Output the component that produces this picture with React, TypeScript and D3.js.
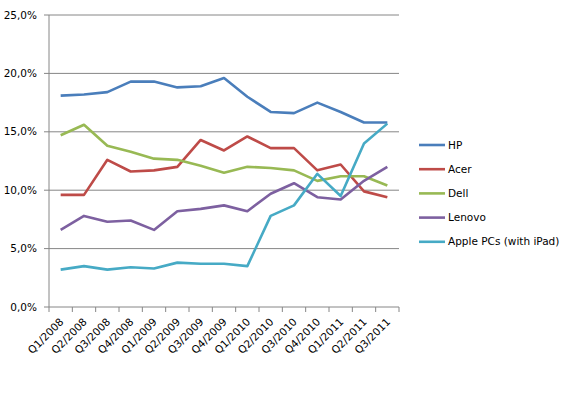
import React from "react";
import * as d3 from "d3";

// quarters on the x axis
const quarters = [
  "Q1/2008", "Q2/2008", "Q3/2008", "Q4/2008",
  "Q1/2009", "Q2/2009", "Q3/2009", "Q4/2009",
  "Q1/2010", "Q2/2010", "Q3/2010", "Q4/2010",
  "Q1/2011", "Q2/2011", "Q3/2011",
];

// market share values (%)
const hp = [18.1, 18.2, 18.4, 19.3, 19.3, 18.8, 18.9, 19.6, 18.0, 16.7, 16.6, 17.5, 16.7, 15.8, 15.8];
const acer = [9.6, 9.6, 12.6, 11.6, 11.7, 12.0, 14.3, 13.4, 14.6, 13.6, 13.6, 11.7, 12.2, 9.9, 9.4];
const dell = [14.7, 15.6, 13.8, 13.3, 12.7, 12.6, 12.1, 11.5, 12.0, 11.9, 11.7, 10.8, 11.2, 11.2, 10.4];
const lenovo = [6.6, 7.8, 7.3, 7.4, 6.6, 8.2, 8.4, 8.7, 8.2, 9.7, 10.6, 9.4, 9.2, 10.8, 12.0];
const apple = [3.2, 3.5, 3.2, 3.4, 3.3, 3.8, 3.7, 3.7, 3.5, 7.8, 8.7, 11.4, 9.5, 14.0, 15.7];

const seriesNames = ["HP", "Acer", "Dell", "Lenovo", "Apple PCs (with iPad)"];
const seriesValues = [hp, acer, dell, lenovo, apple];
const seriesColors = ["#4a7ebb", "#be4b48", "#98b954", "#7d60a0", "#46aac5"];

const yTicks = [0, 5, 10, 15, 20, 25];

const W = 567;
const H = 398;
const left = 49;
const right = 399;
const top = 15;
const bottom = 307;
const font = "Verdana, 'DejaVu Sans', sans-serif";

const App = () => {
  const x = d3.scaleBand<string>().domain(quarters).range([left, right]);
  const y = d3.scaleLinear().domain([0, 25]).range([bottom, top]);
  const fmt = (v: number) => d3.format(".1f")(v).replace(".", ",") + "%";

  const line = d3
    .line<number>()
    .x((_, i) => (x(quarters[i]) as number) + x.bandwidth() / 2)
    .y((d) => y(d));

  return (
    <svg
      width={W}
      height={H}
      style={{ position: "absolute", left: 0, top: 0, background: "#fff" }}
      fontFamily={font}
    >
      {/* gridlines and y labels */}
      {yTicks.map((t) => (
        <g key={t}>
          <line x1={left} x2={right} y1={y(t)} y2={y(t)} stroke="#868686" strokeWidth={1} />
          <line x1={left - 5} x2={left} y1={y(t)} y2={y(t)} stroke="#868686" strokeWidth={1} />
          <text x={37} y={y(t)} dy="0.35em" textAnchor="end" fontSize={10.5} fill="#000">
            {fmt(t)}
          </text>
        </g>
      ))}
      {/* y axis line */}
      <line x1={left} x2={left} y1={top} y2={bottom} stroke="#868686" strokeWidth={1} />
      {/* x ticks */}
      {quarters.map((q) => (
        <line
          key={"t" + q}
          x1={x(q) as number}
          x2={x(q) as number}
          y1={bottom}
          y2={bottom + 5}
          stroke="#868686"
        />
      ))}
      <line x1={right} x2={right} y1={bottom} y2={bottom + 5} stroke="#868686" />
      {/* x labels */}
      {quarters.map((q) => {
        const cx = (x(q) as number) + x.bandwidth() / 2;
        return (
          <text
            key={"l" + q}
            transform={`translate(${cx + 1},${bottom + 13}) rotate(-45)`}
            textAnchor="end"
            dy="0.35em"
            fontSize={10.5}
            fill="#000"
          >
            {q}
          </text>
        );
      })}
      {/* series */}
      {seriesValues.map((vals, i) => (
        <path
          key={seriesNames[i]}
          d={line(vals) as string}
          fill="none"
          stroke={seriesColors[i]}
          strokeWidth={2.6}
          strokeLinejoin="round"
        />
      ))}
      {/* legend */}
      {seriesNames.map((n, i) => {
        const ly = 145 + i * 24.2;
        return (
          <g key={"lg" + n}>
            <line x1={419} x2={445} y1={ly} y2={ly} stroke={seriesColors[i]} strokeWidth={2.6} />
            <text x={448} y={ly} dy="0.35em" fontSize={10.5} fill="#000">
              {n}
            </text>
          </g>
        );
      })}
    </svg>
  );
};

export default App;
